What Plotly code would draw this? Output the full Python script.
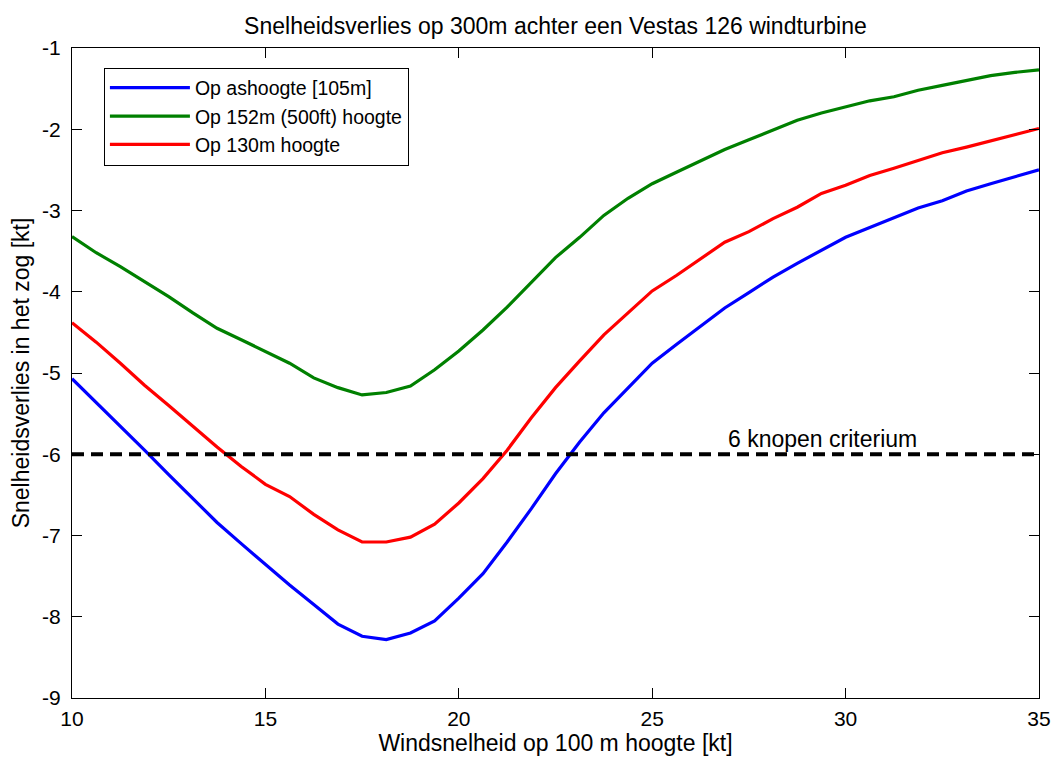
import plotly.graph_objects as go

# Wind speed at 100 m height [kt]
wind_kt = [10.0, 10.625, 11.25, 11.875, 12.5, 13.125, 13.75, 14.375, 15.0, 15.625,
           16.25, 16.875, 17.5, 18.125, 18.75, 19.375, 20.0, 20.625, 21.25, 21.875,
           22.5, 23.125, 23.75, 24.375, 25.0, 25.625, 26.25, 26.875, 27.5, 28.125,
           28.75, 29.375, 30.0, 30.625, 31.25, 31.875, 32.5, 33.125, 33.75, 34.375, 35.0]

loss_hub_105m = [-5.07, -5.36, -5.65, -5.95, -6.25, -6.54, -6.84, -7.10, -7.36, -7.61,
                 -7.85, -8.09, -8.24, -8.28, -8.20, -8.05, -7.77, -7.47, -7.08, -6.67,
                 -6.24, -5.85, -5.49, -5.18, -4.88, -4.65, -4.43, -4.20, -4.01, -3.82,
                 -3.65, -3.49, -3.33, -3.21, -3.09, -2.97, -2.88, -2.76, -2.67, -2.59, -2.50]

loss_152m = [-3.32, -3.52, -3.69, -3.87, -4.06, -4.26, -4.45, -4.59, -4.74, -4.88,
             -5.06, -5.18, -5.27, -5.24, -5.16, -4.96, -4.73, -4.47, -4.19, -3.88,
             -3.58, -3.33, -3.06, -2.85, -2.67, -2.53, -2.39, -2.25, -2.13, -2.01,
             -1.89, -1.80, -1.72, -1.65, -1.60, -1.52, -1.46, -1.40, -1.34, -1.30, -1.27]

loss_130m = [-4.38, -4.62, -4.88, -5.15, -5.40, -5.66, -5.91, -6.15, -6.37, -6.52,
             -6.74, -6.93, -7.08, -7.08, -7.02, -6.86, -6.60, -6.30, -5.95, -5.55,
             -5.18, -4.85, -4.53, -4.26, -3.99, -3.80, -3.59, -3.39, -3.26, -3.10,
             -2.96, -2.79, -2.69, -2.57, -2.48, -2.38, -2.29, -2.22, -2.14, -2.07, -1.99]

criterion_x = [10, 35]
criterion_y = [-6, -6]
criterion_label = "6 knopen criterium"

series_names = ["Op ashoogte [105m]", "Op 152m (500ft) hoogte", "Op 130m hoogte"]
series_colors = ["#0000ff", "#008000", "#ff0000"]

x_ticks = [10, 15, 20, 25, 30, 35]
y_ticks = [-1, -2, -3, -4, -5, -6, -7, -8, -9]

FONT = "Liberation Sans, Arial, sans-serif"

fig = go.Figure()
for name, ys, col in zip(series_names, [loss_hub_105m, loss_152m, loss_130m], series_colors):
    fig.add_trace(go.Scatter(x=wind_kt, y=ys, mode="lines", name=name,
                             line=dict(color=col, width=3.2)))

fig.add_trace(go.Scatter(x=criterion_x, y=criterion_y, mode="lines", showlegend=False,
                         line=dict(color="black", width=4, dash="12px,7px")))

fig.add_annotation(x=29.4, y=-6, text=criterion_label, showarrow=False,
                   yanchor="bottom", yshift=0, font=dict(family=FONT, size=23, color="black"))

fig.update_layout(
    width=1054, height=760,
    margin=dict(l=72, r=15, t=48, b=62),
    paper_bgcolor="white", plot_bgcolor="white",
    title=dict(text="Snelheidsverlies op 300m achter een Vestas 126 windturbine",
               x=0.527, xanchor="center", y=0.966, yanchor="middle",
               font=dict(family=FONT, size=23, color="black")),
    font=dict(family=FONT, size=21, color="black"),
    legend=dict(x=0.033, y=0.97, xanchor="left", yanchor="top",
                bgcolor="white", bordercolor="black", borderwidth=1,
                font=dict(family=FONT, size=19.5, color="black"),
                itemwidth=80, tracegroupgap=0),
    showlegend=True,
)

fig.update_xaxes(range=[10, 35], tickvals=x_ticks, ticks="inside", ticklen=10,
                 tickcolor="black", showline=True, linecolor="black", linewidth=1,
                 mirror="ticks", showgrid=False, zeroline=False, automargin=False,
                 ticklabelstandoff=2,
                 tickfont=dict(family=FONT, size=21),
                 title=dict(text="Windsnelheid op 100 m hoogte [kt]", standoff=4,
                            font=dict(family=FONT, size=23)))
fig.update_yaxes(range=[-9, -1], tickvals=y_ticks, ticktext=[f"-{abs(v)}" for v in y_ticks],
                 ticks="inside", ticklen=10,
                 tickcolor="black", showline=True, linecolor="black", linewidth=1,
                 mirror="ticks", showgrid=False, zeroline=False, automargin=False,
                 ticklabelstandoff=6,
                 tickfont=dict(family=FONT, size=21),
                 title=dict(text="Snelheidsverlies in het zog [kt]", standoff=6,
                            font=dict(family=FONT, size=23)))

fig.write_html("out.html")
